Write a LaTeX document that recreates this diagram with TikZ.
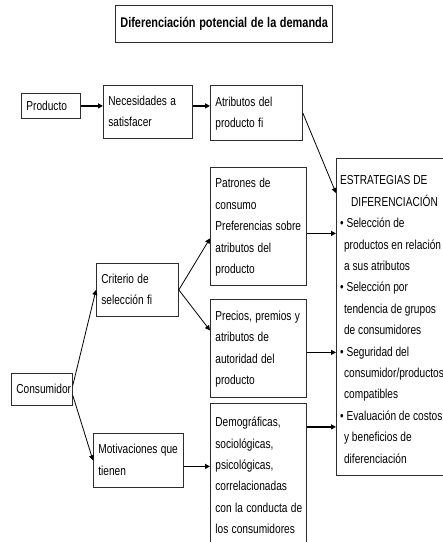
\documentclass[tikz,border=0pt]{standalone}
\usepackage{fontspec}
\usepackage{graphicx}
\setmainfont{Liberation Sans}
\usetikzlibrary{positioning,arrows.meta,calc}
\definecolor{difLine}{RGB}{45,45,45}
% condensed lines, as in the original scan
\newcommand{\difnarrow}[1]{\scalebox{0.78}[1]{\begin{tabular}{@{}l@{}}#1\end{tabular}}}
\tikzset{
  dif/box/.style={draw=difLine, line width=0.8pt, anchor=north west, align=left,
                  inner xsep=5pt, inner ysep=0pt,
                  font=\fontsize{13}{21.4}\selectfont},
  dif/title/.style={dif/box, align=center,
                    font=\fontsize{14}{16}\selectfont\bfseries},
  dif/txt/.style={anchor=north west, align=left, inner sep=0pt,
                  font=\fontsize{13}{21.4}\selectfont},
  dif/arrow/.style={-{Triangle[length=5pt,width=5pt]}, line width=1.4pt, draw=black},
  dif/thin arrow/.style={dif/arrow, line width=0.8pt},
}

\begin{document}
\begin{tikzpicture}[x=1pt, y=-1pt]
  \useasboundingbox (0,0) rectangle (443,542);
  \clip (0,0) rectangle (443,542);

  % ---------------- title ----------------
  \node[dif/title, text width=207pt, minimum height=37pt] (titulo) at (115,5)
    {\scalebox{0.78}[1]{Diferenciación potencial de la demanda}};

  % ---------------- product row ----------------
  \node[dif/box, text width=49pt, minimum height=25pt] (producto) at (21,93)
    {\difnarrow{Producto}};
  \node[dif/box, text width=79pt, minimum height=53pt] (necesidades) at (103,85)
    {\difnarrow{Necesidades a\\satisfacer}};
  \node[dif/box, text width=82pt, minimum height=55pt] (atributos) at (210,85)
    {\difnarrow{Atributos del\\producto fi}};

  % ---------------- consumer tree ----------------
  \node[dif/box, text width=51pt, minimum height=32pt] (consumidor) at (11,373)
    {\difnarrow{Consumidor}};
  \node[dif/box, text width=72pt, minimum height=53pt] (criterio) at (96,263)
    {\difnarrow{Criterio de\\selección fi}};
  \node[dif/box, text width=80pt, minimum height=54pt] (motivaciones) at (93,433)
    {\difnarrow{Motivaciones que\\tienen}};

  \node[dif/box, text width=86pt, minimum height=118pt] (patrones) at (210,167)
    {\difnarrow{Patrones de\\consumo\\Preferencias sobre\\atributos del\\producto}};
  \node[dif/box, text width=86pt, minimum height=98pt] (precios) at (210,299)
    {\difnarrow{Precios, premios y\\atributos de\\autoridad del\\producto}};
  \node[dif/box, text width=86pt, minimum height=145pt] (demograficas) at (210,403)
    {\difnarrow{Demográficas,\\sociológicas,\\psicológicas,\\correlacionadas\\con la conducta de\\los consumidores}};

  % ---------------- strategies column ----------------
  \node[dif/box, minimum width=130pt, minimum height=317pt] (estrategia) at (336,158) {};
  \node[dif/txt] (estrategiatxt) at ([xshift=4pt, yshift=-11.7pt]estrategia.north west)
    {\difnarrow{ESTRATEGIAS DE\\
     \hspace*{14pt}DIFERENCIACIÓN\\
     • Selección de\\
     \hspace*{5pt}productos en relación\\
     \hspace*{5pt}a sus atributos\\
     • Selección por\\
     \hspace*{5pt}tendencia de grupos\\
     \hspace*{5pt}de consumidores\\
     • Seguridad del\\
     \hspace*{5pt}consumidor/productos\\
     \hspace*{5pt}compatibles\\
     • Evaluación de costos\\
     \hspace*{5pt}y beneficios de\\
     \hspace*{5pt}diferenciación}};

  % ---------------- product row edges ----------------
  \draw[dif/arrow] (producto.east) -- (producto.east -| necesidades.west);
  \draw[dif/arrow] (necesidades.east |- producto.east) -- (atributos.west |- producto.east);
  \draw[dif/thin arrow] (atributos.east) -- ([yshift=-35pt]estrategia.north west);

  % ---------------- consumer tree edges ----------------
  \draw[dif/thin arrow] ([yshift=4pt]consumidor.east) -- (criterio.west);
  \draw[dif/thin arrow] ([yshift=-6pt]consumidor.east) -- (motivaciones.west);
  \draw[dif/thin arrow] (criterio.east) -- ([yshift=-12pt]patrones.west);
  \draw[dif/thin arrow] (criterio.east) -- ([yshift=18pt]precios.west);
  \coordinate (motivout) at ([yshift=-6pt]motivaciones.east);
  \draw[dif/arrow] (motivout) -- (motivout -| demograficas.west);

  % ---------------- into the strategies ----------------
  \coordinate (patronesout) at ([yshift=-7pt]patrones.east);
  \coordinate (preciosout)  at ([yshift=-4pt]precios.east);
  \coordinate (demogout)    at ([yshift=49pt]demograficas.east);
  \draw[dif/arrow] (patronesout) -- (patronesout -| estrategia.west);
  \draw[dif/arrow] (preciosout) -- (preciosout -| estrategia.west);
  \draw[dif/arrow] (demogout) -- (demogout -| estrategia.west);

\end{tikzpicture}
\end{document}
